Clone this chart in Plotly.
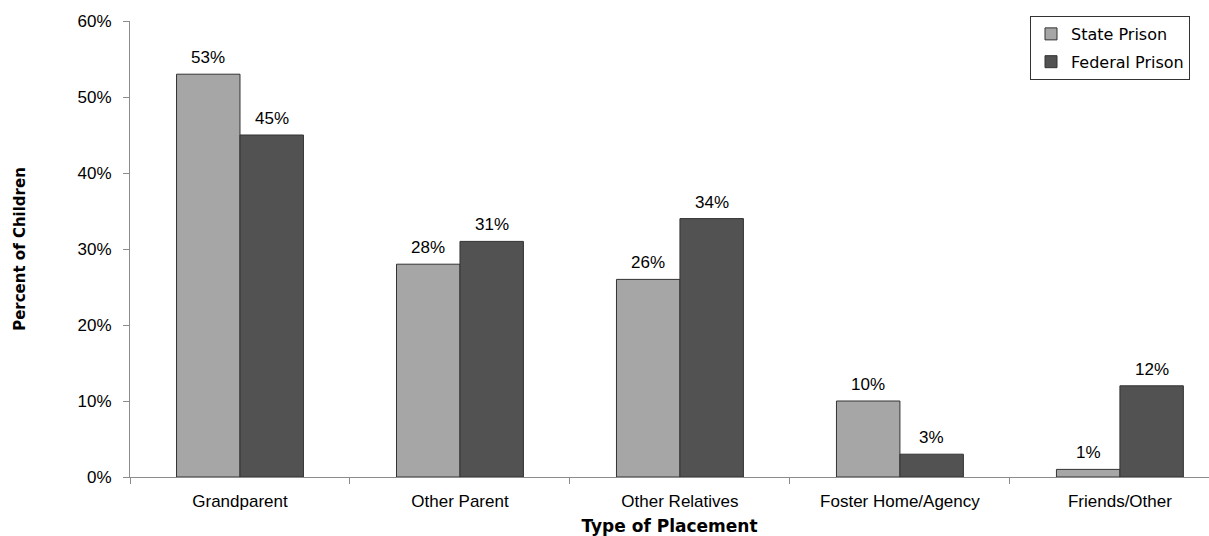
import plotly.graph_objects as go

# Placement of children by type of prison
categories = ["Grandparent", "Other Parent", "Other Relatives", "Foster Home/Agency", "Friends/Other"]
state_prison = [53, 28, 26, 10, 1]
federal_prison = [45, 31, 34, 3, 12]
y_ticks = [0, 10, 20, 30, 40, 50, 60]
y_tick_labels = [f"{v}%" for v in y_ticks]

# Layout geometry
W, H = 1209, 536
M_L, M_R, M_T, M_B = 130, 0, 21, 59
X_RANGE = [-0.5, 4.405]
BARGAP = 0.423

sans = "Liberation Sans, Arial, sans-serif"
verdana = "DejaVu Sans, Verdana, sans-serif"

fig = go.Figure()
fig.add_trace(go.Bar(
    name="State Prison", x=categories, y=state_prison, legendgroup="state",
    marker=dict(color="#A6A6A6", line=dict(color="#333333", width=1)),
))
fig.add_trace(go.Bar(
    name="Federal Prison", x=categories, y=federal_prison, legendgroup="federal",
    marker=dict(color="#525252", line=dict(color="#333333", width=1)),
))

# Value labels centred over each bar, a little above its top
px_per_cat = (W - M_L - M_R) / (X_RANGE[1] - X_RANGE[0])
half_bar = px_per_cat * (1 - BARGAP) / 4
for series, shift in ((state_prison, -half_bar), (federal_prison, half_bar)):
    for cat, val in zip(categories, series):
        fig.add_annotation(
            x=cat, y=val, text=f"{val}%", showarrow=False,
            xshift=shift, yshift=5, yanchor="bottom",
            font=dict(family=sans, size=17, color="#000000"),
        )

fig.update_layout(
    width=W, height=H,
    margin=dict(l=M_L, r=M_R, t=M_T, b=M_B),
    paper_bgcolor="white", plot_bgcolor="white",
    barmode="group", bargap=BARGAP, bargroupgap=0,
    font=dict(family=sans, size=16, color="#000000"),
    legend=dict(
        x=(1030 - M_L) / (W - M_L - M_R), y=1.011, xanchor="left", yanchor="top",
        bordercolor="#333333", borderwidth=1, bgcolor="white",
        font=dict(family=verdana, size=16),
        tracegroupgap=4, itemwidth=30,
    ),
)
fig.update_xaxes(
    type="category", range=X_RANGE,
    showline=True, linecolor="#8C8C8C", linewidth=1,
    ticks="outside", tickson="boundaries", ticklen=6, tickcolor="#8C8C8C",
    ticklabelstandoff=9,
    showgrid=False, zeroline=False,
    tickfont=dict(family=sans, size=17),
    title=dict(text="<b>Type of Placement</b>", standoff=12,
               font=dict(family=verdana, size=17)),
)
fig.update_yaxes(
    range=[0, 60], tickvals=y_ticks, ticktext=y_tick_labels,
    showline=True, linecolor="#8C8C8C", linewidth=1,
    ticks="outside", ticklen=6, tickcolor="#8C8C8C",
    ticklabelstandoff=8,
    showgrid=False, zeroline=False,
    tickfont=dict(family=sans, size=17),
    title=dict(text="<b>Percent of Children</b>", standoff=48,
               font=dict(family=verdana, size=15)),
)

fig.write_html("out.html")
